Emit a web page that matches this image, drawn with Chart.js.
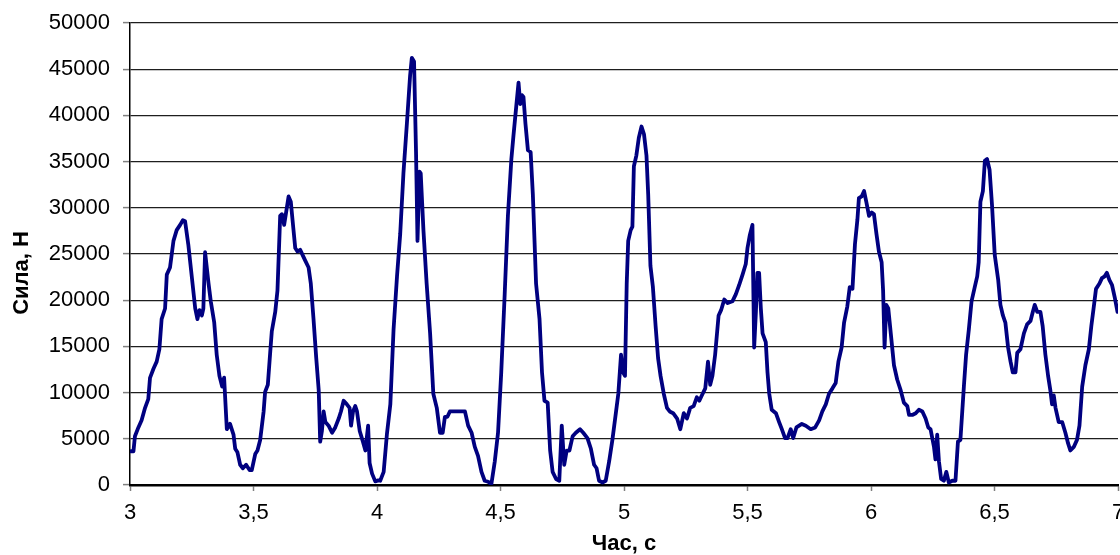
<!DOCTYPE html>
<html>
<head>
<meta charset="utf-8">
<script src="https://cdn.jsdelivr.net/npm/chart.js@4"></script>
<style>
  html, body { margin: 0; padding: 0; overflow: hidden; background: #fff; }
  canvas { display: block; }
</style>
</head>
<body>
<canvas id="c" width="1130" height="565"></canvas>
<script>
const timeValues = [
  3.004, 3.014, 3.020, 3.034, 3.047, 3.061, 3.074, 3.081, 3.095, 3.108, 3.119, 3.128, 3.142, 3.149, 3.162, 3.176,
  3.189, 3.203, 3.214, 3.223, 3.236, 3.250, 3.264, 3.273, 3.281, 3.291, 3.297, 3.304, 3.318, 3.327, 3.341, 3.351,
  3.362, 3.373, 3.381, 3.392, 3.405, 3.419, 3.426, 3.435, 3.446, 3.457, 3.470, 3.484, 3.493, 3.507, 3.516, 3.527,
  3.541, 3.547, 3.558, 3.568, 3.574, 3.588, 3.597, 3.608, 3.615, 3.624, 3.632, 3.642, 3.651, 3.662, 3.669, 3.678,
  3.689, 3.699, 3.709, 3.723, 3.732, 3.743, 3.754, 3.764, 3.770, 3.777, 3.784, 3.791, 3.804, 3.818, 3.831, 3.845,
  3.854, 3.865, 3.878, 3.889, 3.895, 3.903, 3.912, 3.919, 3.930, 3.943, 3.953, 3.964, 3.970, 3.980, 3.993, 4.005,
  4.013, 4.027, 4.040, 4.054, 4.067, 4.081, 4.094, 4.107, 4.121, 4.134, 4.141, 4.150, 4.158, 4.164, 4.172, 4.177,
  4.188, 4.201, 4.215, 4.228, 4.242, 4.255, 4.266, 4.275, 4.285, 4.295, 4.336, 4.356, 4.369, 4.383, 4.396, 4.409,
  4.423, 4.436, 4.450, 4.463, 4.477, 4.490, 4.503, 4.517, 4.530, 4.544, 4.553, 4.564, 4.573, 4.580, 4.587, 4.593,
  4.601, 4.611, 4.622, 4.631, 4.644, 4.658, 4.668, 4.678, 4.691, 4.701, 4.711, 4.725, 4.738, 4.748, 4.758, 4.768,
  4.779, 4.792, 4.805, 4.822, 4.835, 4.852, 4.866, 4.879, 4.889, 4.899, 4.913, 4.926, 4.940, 4.953, 4.966, 4.977,
  4.988, 4.996, 5.004, 5.011, 5.017, 5.027, 5.034, 5.040, 5.050, 5.060, 5.071, 5.081, 5.091, 5.098, 5.107, 5.117,
  5.128, 5.138, 5.148, 5.161, 5.174, 5.185, 5.199, 5.215, 5.228, 5.242, 5.255, 5.268, 5.282, 5.295, 5.305, 5.315,
  5.329, 5.340, 5.349, 5.358, 5.369, 5.383, 5.393, 5.406, 5.420, 5.439, 5.453, 5.466, 5.480, 5.493, 5.500, 5.509,
  5.520, 5.527, 5.534, 5.540, 5.547, 5.554, 5.561, 5.574, 5.581, 5.588, 5.598, 5.615, 5.628, 5.639, 5.652, 5.662,
  5.675, 5.685, 5.698, 5.709, 5.720, 5.736, 5.756, 5.774, 5.790, 5.803, 5.817, 5.830, 5.844, 5.857, 5.868, 5.881,
  5.891, 5.904, 5.914, 5.925, 5.935, 5.945, 5.951, 5.962, 5.972, 5.981, 5.992, 6.003, 6.012, 6.022, 6.032, 6.043,
  6.049, 6.055, 6.062, 6.070, 6.080, 6.093, 6.106, 6.120, 6.133, 6.147, 6.154, 6.167, 6.181, 6.194, 6.208, 6.221,
  6.232, 6.241, 6.255, 6.261, 6.268, 6.275, 6.284, 6.295, 6.305, 6.315, 6.329, 6.342, 6.352, 6.362, 6.376, 6.385,
  6.396, 6.407, 6.420, 6.430, 6.436, 6.443, 6.453, 6.461, 6.470, 6.480, 6.490, 6.501, 6.515, 6.524, 6.534, 6.544,
  6.555, 6.565, 6.574, 6.585, 6.592, 6.605, 6.619, 6.632, 6.646, 6.655, 6.663, 6.673, 6.686, 6.695, 6.706, 6.717,
  6.726, 6.733, 6.740, 6.747, 6.760, 6.774, 6.787, 6.798, 6.807, 6.821, 6.834, 6.844, 6.855, 6.868, 6.882, 6.892,
  6.903, 6.911, 6.925, 6.935, 6.946, 6.955, 6.965, 6.976, 6.987, 6.998
];

const forceValues = [
  3650, 3650, 5270, 6230, 7000, 8350, 9300, 11600, 12580, 13350, 14700, 17960, 19100, 22770, 23540, 26420,
  27580, 28150, 28650, 28540, 26040, 22580, 19120, 17960, 18920, 18350, 19100, 25190, 21800, 19880, 17580, 14110,
  11810, 10650, 11620, 6040, 6620, 5460, 3920, 3540, 2190, 1810, 2190, 1620, 1620, 3350, 3730, 4880,
  7960, 10080, 10850, 14500, 16610, 18730, 21040, 29120, 29310, 28150, 29500, 31230, 30650, 27580, 25650, 25270,
  25460, 24880, 24310, 23540, 21800, 17960, 13730, 10270, 4690, 5850, 7960, 6810, 6420, 5650, 6230, 7190,
  7960, 9120, 8730, 8350, 6420, 7960, 8540, 7960, 5850, 4690, 3730, 6420, 2380, 1230, 390, 500,
  460, 1420, 5460, 8730, 16800, 22580, 27190, 33730, 39110, 44300, 46230, 45840, 36040, 26420, 33920, 33730,
  27580, 21800, 16420, 9880, 8350, 5650, 5650, 7380, 7380, 7960, 7960, 7960, 6420, 5650, 4120, 3150,
  1420, 460, 350, 80, 2580, 5650, 12190, 20650, 29120, 35270, 37960, 41040, 43540, 41230, 42190, 42000,
  39110, 36230, 36040, 31420, 21800, 17960, 12190, 9120, 8920, 3730, 1420, 650, 460, 6420, 2190, 3730,
  3730, 5270, 5650, 6040, 5650, 5080, 3920, 2190, 1810, 460, 270, 460, 2580, 4880, 7580, 9880,
  14110, 12190, 11810, 21800, 26420, 27580, 27960, 34500, 35650, 37580, 38800, 37960, 35650, 31420, 23730, 21420,
  17190, 13730, 11810, 9880, 8350, 7960, 7770, 7190, 6040, 7770, 7190, 8350, 8540, 9500, 9120, 9690,
  10460, 13350, 10850, 11810, 14110, 18350, 18920, 20080, 19690, 19880, 20650, 21620, 22770, 23920, 25650, 27000,
  28150, 14880, 18730, 22960, 22960, 19120, 16420, 15460, 12190, 9880, 8150, 7770, 6810, 6040, 5080, 5080,
  6040, 5080, 6230, 6420, 6610, 6420, 6040, 6230, 7000, 7960, 8730, 9880, 10460, 11040, 13350, 14880,
  17580, 19310, 21420, 21230, 26040, 28730, 31040, 31230, 31810, 30650, 29120, 29500, 29310, 27190, 25270, 24110,
  21040, 14880, 19500, 19120, 16420, 12960, 11420, 10270, 8920, 8540, 7580, 7580, 7770, 8150, 7960, 7190,
  6230, 6040, 4120, 2770, 5460, 2580, 650, 460, 1420, 270, 460, 460, 4690, 4880, 10650, 14110,
  16800, 19880, 21420, 22580, 24110, 30650, 31810, 35080, 35270, 34120, 30270, 24880, 22190, 19500, 18350, 17580,
  14880, 13350, 12190, 12190, 14300, 14690, 16420, 17390, 17770, 18730, 19500, 18730, 18730, 17190, 14110, 11810,
  10270, 8730, 9690, 8350, 6810, 6810, 5650, 4500, 3730, 4120, 4880, 6420, 10650, 12960, 14690, 17190,
  19500, 21230, 21800, 22390, 22580, 22960, 22190, 21620, 20270, 18730
];

const xTickValues = [3, 3.5, 4, 4.5, 5, 5.5, 6, 6.5, 7];
const xTickLabels = ['3', '3,5', '4', '4,5', '5', '5,5', '6', '6,5', '7'];
const yTickValues = [0, 5000, 10000, 15000, 20000, 25000, 30000, 35000, 40000, 45000, 50000];
const yTickLabels = ['0', '5000', '10000', '15000', '20000', '25000', '30000', '35000', '40000', '45000', '50000'];
const xTitle = 'Час, с';
const yTitle = 'Сила, Н';

const FONT = "'Liberation Sans', Arial, sans-serif";

const points = timeValues.map((t, i) => ({ x: t, y: forceValues[i] }));

const yTitlePlugin = {
  id: 'yTitlePlugin',
  afterDraw(chart) {
    const ctx = chart.ctx;
    const area = chart.chartArea;
    ctx.save();
    ctx.translate(22, area.bottom - 212);
    ctx.rotate(-Math.PI / 2);
    ctx.font = "bold 22px " + FONT;
    ctx.fillStyle = '#000';
    ctx.textAlign = 'center';
    ctx.textBaseline = 'middle';
    ctx.fillText(yTitle, 0, 0);
    ctx.restore();
  }
};

new Chart(document.getElementById('c'), {
  type: 'line',
  data: {
    datasets: [{
      data: points,
      borderColor: '#000080',
      borderWidth: 3.8,
      borderJoinStyle: 'round',
      borderCapStyle: 'round',
      pointRadius: 0,
      tension: 0,
      fill: false
    }]
  },
  options: {
    responsive: false,
    animation: false,
    devicePixelRatio: 1,
    layout: { padding: { left: 0, right: 12, top: 23, bottom: 0 } },
    plugins: { legend: { display: false }, tooltip: { enabled: false } },
    scales: {
      x: {
        type: 'linear',
        min: 3,
        max: 7,
        afterBuildTicks(scale) { scale.ticks = xTickValues.map(v => ({ value: v })); },
        afterFit(scale) {
          scale.height = 80;
          scale.paddingLeft = 0;
          scale.paddingRight = 0;
        },
        ticks: {
          autoSkip: false,
          maxRotation: 0,
          padding: 9,
          color: '#000',
          font: { family: FONT, size: 22 },
          callback(value) {
            const i = xTickValues.indexOf(value);
            return i >= 0 ? xTickLabels[i] : '';
          }
        },
        grid: { drawOnChartArea: false, drawTicks: true, tickLength: 6, tickColor: '#808080', tickWidth: 1.5 },
        border: { display: true, color: '#000', width: 2.5 },
        title: {
          display: true,
          text: xTitle,
          color: '#000',
          font: { family: FONT, size: 22, weight: 'bold' },
          padding: { top: 0, bottom: 8 }
        }
      },
      y: {
        min: 0,
        max: 50000,
        afterBuildTicks(scale) { scale.ticks = yTickValues.map(v => ({ value: v })); },
        afterFit(scale) {
          scale.width = 130;
          scale.paddingTop = 0;
          scale.paddingBottom = 0;
        },
        ticks: {
          padding: 13,
          color: '#000',
          font: { family: FONT, size: 22 },
          callback(value) {
            const i = yTickValues.indexOf(value);
            return i >= 0 ? yTickLabels[i] : '';
          }
        },
        grid: { color: '#1e1e1e', lineWidth: 1.2, tickLength: 7, tickColor: '#808080', tickWidth: 1.5 },
        border: { display: true, color: '#000', width: 1.5 }
      }
    }
  },
  plugins: [yTitlePlugin]
});
</script>
</body>
</html>
